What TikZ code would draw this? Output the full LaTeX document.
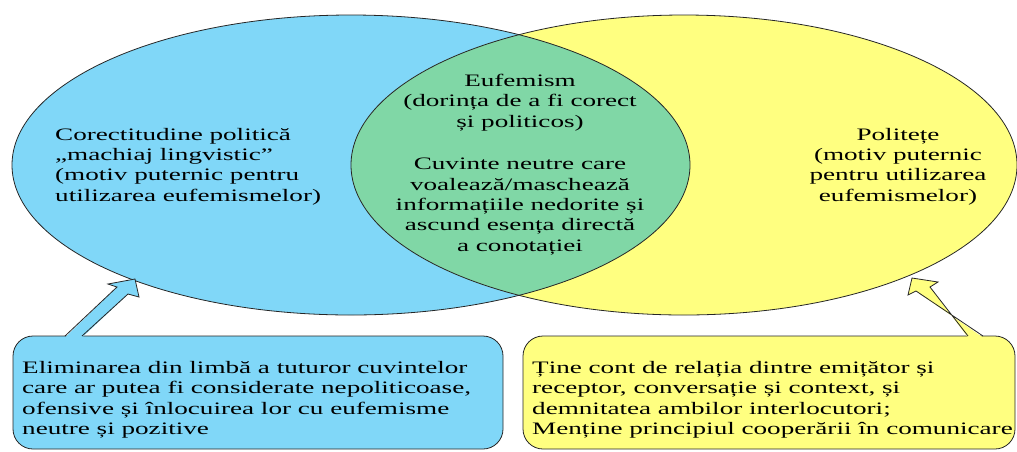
\documentclass[tikz,border=0pt]{standalone}
\usepackage{fontspec}
\setmainfont{Liberation Serif}[FakeStretch=1.55]
\usetikzlibrary{shapes.geometric}
\definecolor{cblue}{RGB}{128,215,248}
\definecolor{cyellow}{RGB}{255,255,128}
\definecolor{cgreen}{RGB}{128,215,166}
\begin{document}
\begin{tikzpicture}[x=1pt,y=-1pt,
  txt/.style={inner sep=0pt, font=\fontsize{17.5}{20.3}\selectfont},
  outl/.style={draw=black!85, line width=0.8pt},
  box/.style={outl, rounded corners=20pt, minimum width=490pt, minimum height=113pt, inner sep=0pt}]
\useasboundingbox (0,0) rectangle (1017,451);
% ellipses
\node[ellipse, fill=cblue, minimum width=678pt, minimum height=300pt, inner sep=0pt] (L) at (351,165) {};
\node[ellipse, fill=cyellow, minimum width=666pt, minimum height=300pt, inner sep=0pt] (R) at (684,165) {};
\begin{scope}
  \clip (351,165) ellipse [x radius=339pt, y radius=150pt];
  \fill[cgreen] (684,165) ellipse [x radius=333pt, y radius=150pt];
\end{scope}
\draw[outl] (351,165) ellipse [x radius=339pt, y radius=150pt];
\draw[outl] (684,165) ellipse [x radius=333pt, y radius=150pt];
% boxes
\node[box, fill=cblue] (BL) at (258,392.5) {};
\node[box, fill=cyellow, minimum width=492pt] (BR) at (769,392.5) {};
% arrows
\fill[cblue] (65,337.5) -- (117,287) -- (108,284) -- (135,279) -- (139,297) -- (128,294) -- (82,337.5) -- cycle;
\draw[outl, line join=miter] (65,336) -- (117,287) -- (108,284) -- (135,279) -- (139,297) -- (128,294) -- (82,336);
\fill[cyellow] (968,337.5) -- (930,287) -- (938,282) -- (912,278) -- (908,295) -- (916,291) -- (983,337.5) -- cycle;
\draw[outl, line join=miter] (968,336) -- (930,287) -- (938,282) -- (912,278) -- (908,295) -- (916,291) -- (983,336);
% texts (base anchor = baseline of last line)
\node[txt, anchor=base west, align=left] (tL) at (55,201) {Corectitudine politică\\„machiaj lingvistic”\\(motiv puternic pentru\\utilizarea eufemismelor)};
\node[txt, anchor=base, align=center] (tR) at (898,201) {Politețe\\(motiv puternic\\pentru utilizarea\\eufemismelor)};
\node[txt, anchor=base, align=center] (tC1) at (520,127) {Eufemism\\(dorința de a fi corect\\și politicos)};
\node[txt, anchor=base, align=center] (tC2) at (520,251) {Cuvinte neutre care\\voalează/maschează\\informațiile nedorite și\\ascund esența directă\\a conotației};
\node[txt, anchor=base west, align=left] (tBL) at (22,434.5) {Eliminarea din limbă a tuturor cuvintelor\\care ar putea fi considerate nepoliticoase,\\ofensive și înlocuirea lor cu eufemisme\\neutre și pozitive};
\node[txt, anchor=base west, align=left] (tBR) at (532,434.5) {Ține cont de relația dintre emițător și\\receptor, conversație și context, și\\demnitatea ambilor interlocutori;\\Menține principiul cooperării în comunicare};
\end{tikzpicture}
\end{document}
